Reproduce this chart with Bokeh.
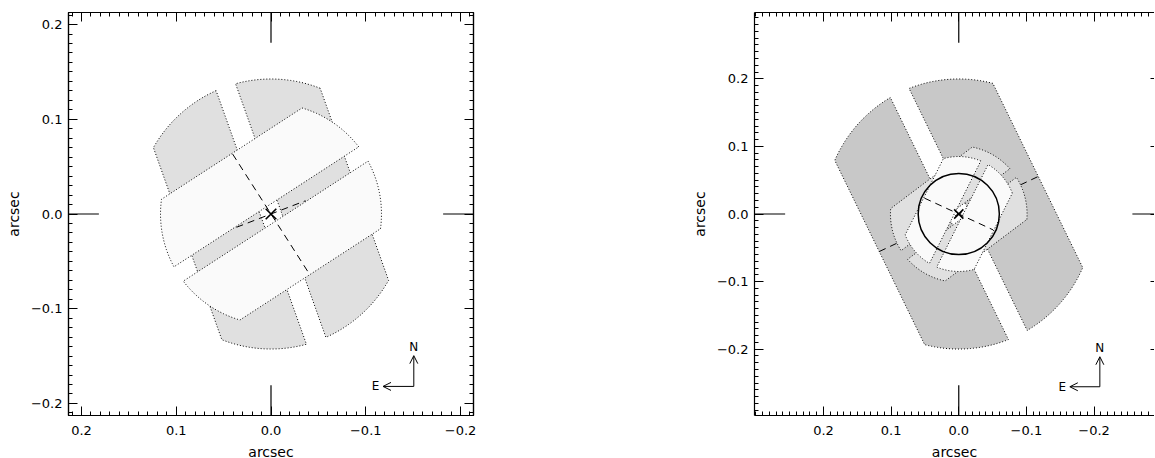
import numpy as np
from bokeh.plotting import figure
from bokeh.models import (Range1d, FixedTicker, LinearAxis, CustomJSTickFormatter,
                          Arrow, OpenHead, Label)
from bokeh.layouts import row
from bokeh.embed import file_html
from bokeh.resources import INLINE

# ------------------------------------------------------------------ data (arcsec)
# axis limits
L_XLIM = [0.2137, -0.2137]
L_YLIM = [-0.2127, 0.2127]
R_XLIM_FULL = [0.302, -0.302]        # full frame of right panel (its right edge is cut off)
R_XLIM = [0.302, -0.2894]            # visible part
R_YLIM = [-0.298, 0.298]
MAJOR_TICKS = [-0.2, -0.1, 0.0, 0.1, 0.2]

# left panel: grey field = circle ∩ band, minus central gap  (radius, PA deg, [gap half-width, half-width])
L_FIELD_R = 0.1425
L_FIELD_PA = 19.6
L_FIELD_V = [0.0109, 0.0934]
# left panel: two light strips clipped by a circle
L_STRIP_R = 0.1166
L_STRIP_PA = -57.0
L_STRIP_V = [0.009, 0.076]
# left panel dashed lines (end points)
L_LONG_X = [0.0405, -0.0405]
L_LONG_Y = [0.0633, -0.0633]
L_SHORT_X = [0.0364, -0.0364]
L_SHORT_Y = [-0.0140, 0.0140]
# left compass: origin x, y, arrow length, N offset, E offset
L_COMPASS = [-0.1507, -0.182, 0.0325, 0.0415, 0.0404]

# right panel: dark field
R_FIELD_R = 0.1997
R_FIELD_PA = 26.0
R_FIELD_V = [0.0154, 0.130]
# right panel: medium field
R_MID_R = 0.101
R_MID_PA = -53.0
R_MID_V = [0.008, 0.067]
# right panel: light strips
R_STRIP_R = 0.085
R_STRIP_PA = -26.6
R_STRIP_V = [0.006, 0.057]
# right panel circle (x, y, radius)
R_CIRCLE = [0.0, 0.0, 0.060]
# right panel dashed lines
R_LONG_X = [0.1175, -0.1175]
R_LONG_Y = [-0.0555, 0.0555]
R_SHORT_X = [0.0508, -0.0508]
R_SHORT_Y = [0.0235, -0.0235]
R_COMPASS = [-0.2086, -0.2555, 0.0444, 0.058, 0.0556]

TARGET_X = [0.0]
TARGET_Y = [0.0]
CENTRE_MARK_FRAC = 0.15

FONT = "DejaVu Sans"
DOT = "1 2"
DASH = "7 5"


def strip_patch(R, pa_deg, v1, v2, n=60):
    """outline of the strip v1<=v<=v2 (long axis at position angle pa) clipped by a circle R"""
    pa = np.radians(pa_deg)
    ax, ay = np.sin(pa), np.cos(pa)
    bx, by = np.cos(pa), -np.sin(pa)
    u1 = np.sqrt(R * R - v1 * v1)
    u2 = np.sqrt(R * R - v2 * v2)
    f1 = np.arctan2(v1, u1)
    f2 = np.arctan2(v2, u2)
    phi = np.concatenate([np.linspace(f1, f2, n), np.linspace(np.pi - f2, np.pi - f1, n)])
    u = R * np.cos(phi)
    v = R * np.sin(phi)
    return list(u * ax + v * bx), list(u * ay + v * by)


def pair(R, pa, vv):
    a = strip_patch(R, pa, vv[0], vv[1])
    b = strip_patch(R, pa, -vv[1], -vv[0])
    return [a[0], b[0]], [a[1], b[1]]


fmt = CustomJSTickFormatter(code="""
const v = Math.abs(tick) < 1e-9 ? 0 : tick;
return (v < 0 ? "\\u2212" : "") + Math.abs(v).toFixed(1);
""")


def make_ticker(lo, hi):
    minors = [round(k * 0.01, 2) for k in range(int(round(lo * 100)), int(round(hi * 100)) + 1)]
    return FixedTicker(ticks=MAJOR_TICKS, minor_ticks=minors)


def style_axis(ax, labels=True, line=True, minor=True, standoff=6):
    ax.major_tick_in = 9
    ax.major_tick_out = 0
    ax.minor_tick_in = 4 if minor else 0
    ax.minor_tick_out = 0
    ax.major_tick_line_color = "black"
    ax.minor_tick_line_color = "black" if minor else None
    ax.major_tick_line_width = 1
    ax.minor_tick_line_width = 1
    ax.axis_line_color = "black" if line else None
    ax.axis_line_width = 1.2
    if labels:
        ax.formatter = fmt
        ax.major_label_text_font = FONT
        ax.major_label_text_font_size = "13px"
        ax.major_label_text_color = "black"
        ax.major_label_standoff = standoff
        ax.axis_label = "arcsec"
        ax.axis_label_text_font = FONT
        ax.axis_label_text_font_size = "14px"
        ax.axis_label_text_font_style = "normal"
        ax.axis_label_text_color = "black"
        ax.axis_label_standoff = 6
    else:
        ax.formatter = CustomJSTickFormatter(code="return '';")
        ax.major_label_text_font_size = "1px"
        ax.major_label_text_color = None
        ax.major_label_standoff = 0
        ax.axis_label = None


def make_fig(xlim, ylim, fw, fh, bl, br, outline):
    p = figure(frame_width=fw, frame_height=fh, min_border_left=bl, min_border_right=br,
               min_border_top=12, min_border_bottom=43,
               x_range=Range1d(xlim[0], xlim[1]), y_range=Range1d(ylim[0], ylim[1]),
               x_axis_location=None, y_axis_location=None,
               toolbar_location=None, output_backend="svg")
    p.grid.visible = False
    p.background_fill_color = "white"
    p.border_fill_color = "white"
    p.outline_line_color = "black" if outline else None
    p.outline_line_width = 1.2
    return p


def add_axes(p, xt, yt, right_line=True, right_minor=True):
    b = LinearAxis(ticker=xt); style_axis(b, standoff=10)
    l = LinearAxis(ticker=yt); style_axis(l, standoff=6)
    t = LinearAxis(ticker=xt); style_axis(t, labels=False)
    r = LinearAxis(ticker=yt); style_axis(r, labels=False, line=right_line, minor=right_minor)
    p.add_layout(b, "below")
    p.add_layout(l, "left")
    p.add_layout(t, "above")
    p.add_layout(r, "right")
    return r


def centre_marks(p, xlim, ylim):
    dx = CENTRE_MARK_FRAC * abs(xlim[0])
    dy = CENTRE_MARK_FRAC * abs(ylim[1])
    x0 = [0, 0, xlim[0], xlim[1]]
    y0 = [ylim[1], ylim[0], 0, 0]
    x1 = [0, 0, xlim[0] - dx, xlim[1] + dx]
    y1 = [ylim[1] - dy, ylim[0] + dy, 0, 0]
    p.segment(x0=x0, y0=y0, x1=x1, y1=y1, line_color="black", line_width=1.2)


def compass(p, c):
    x, y, ln, noff, eoff = c
    p.add_layout(Arrow(end=OpenHead(size=8, line_width=1, line_color="black"),
                       x_start=x, y_start=y, x_end=x, y_end=y + ln, line_width=1, line_color="black"))
    p.add_layout(Arrow(end=OpenHead(size=8, line_width=1, line_color="black"),
                       x_start=x, y_start=y, x_end=x + ln, y_end=y, line_width=1, line_color="black"))
    p.add_layout(Label(x=x, y=y + noff, text="N", text_align="center", text_baseline="middle",
                       text_font=FONT, text_font_size="12px", text_color="black"))
    p.add_layout(Label(x=x + eoff, y=y, text="E", text_align="center", text_baseline="middle",
                       text_font=FONT, text_font_size="12px", text_color="black"))


# ------------------------------------------------------------------ left panel
pl = make_fig(L_XLIM, L_YLIM, 405, 403, 68, 60, True)
add_axes(pl, make_ticker(-0.21, 0.21), make_ticker(-0.21, 0.21))
xs, ys = pair(L_FIELD_R, L_FIELD_PA, L_FIELD_V)
pl.patches(xs, ys, fill_color="#e0e0e0", line_color="black", line_dash=DOT, line_width=1)
xs, ys = pair(L_STRIP_R, L_STRIP_PA, L_STRIP_V)
pl.patches(xs, ys, fill_color="#fafafa", line_color="black", line_dash=DOT, line_width=1)
pl.line(L_LONG_X, L_LONG_Y, line_color="black", line_dash=DASH, line_width=1)
pl.line(L_SHORT_X, L_SHORT_Y, line_color="black", line_dash=DASH, line_width=1)
pl.scatter(TARGET_X, TARGET_Y, marker="x", size=15, line_color="black", line_width=1.6)
centre_marks(pl, L_XLIM, L_YLIM)
compass(pl, L_COMPASS)

# ------------------------------------------------------------------ right panel
pr = make_fig(R_XLIM, R_YLIM, 400, 403, 221, 0, False)
rax = add_axes(pr, make_ticker(-0.28, 0.30), make_ticker(-0.29, 0.29), right_line=False, right_minor=False)
rax.major_tick_in = 4
xs, ys = pair(R_FIELD_R, R_FIELD_PA, R_FIELD_V)
pr.patches(xs, ys, fill_color="#c8c8c8", line_color="black", line_dash=DOT, line_width=1)
pr.line(R_LONG_X, R_LONG_Y, line_color="black", line_dash=DASH, line_width=1)
xs, ys = pair(R_MID_R, R_MID_PA, R_MID_V)
pr.patches(xs, ys, fill_color="#e0e0e0", line_color="black", line_dash=DOT, line_width=1)
xs, ys = pair(R_STRIP_R, R_STRIP_PA, R_STRIP_V)
pr.patches(xs, ys, fill_color="#fafafa", line_color="black", line_dash=DOT, line_width=1)
pr.circle(x=[R_CIRCLE[0]], y=[R_CIRCLE[1]], radius=R_CIRCLE[2], fill_color=None,
          line_color="black", line_width=1.5)
pr.line(R_SHORT_X, R_SHORT_Y, line_color="black", line_dash=DASH, line_width=1)
pr.scatter(TARGET_X, TARGET_Y, marker="x", size=13, line_color="black", line_width=1.6)
centre_marks(pr, R_XLIM_FULL, R_YLIM)
compass(pr, R_COMPASS)

layout = row(pl, pr)
open("out.html", "w").write(file_html(layout, INLINE))
